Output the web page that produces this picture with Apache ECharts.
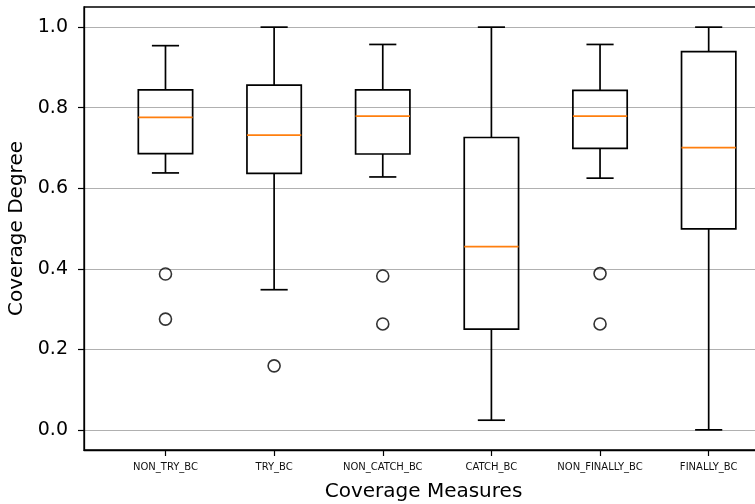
<!DOCTYPE html>
<html>
<head>
<meta charset="utf-8">
<script src="https://cdn.jsdelivr.net/npm/echarts@6/dist/echarts.min.js"></script>
<style>
html,body{margin:0;padding:0;background:#fff;}
#chart{width:755px;height:504px;}
</style>
</head>
<body>
<div id="chart"></div>
<script>
// Categories (box positions 1..6)
const categories = ['NON_TRY_BC', 'TRY_BC', 'NON_CATCH_BC', 'CATCH_BC', 'NON_FINALLY_BC', 'FINALLY_BC'];
// Box statistics per category: [lower whisker, Q1, median, Q3, upper whisker]
const lowerWhisker = [0.638, 0.348, 0.628, 0.024, 0.625, 0.000];
const q1Values     = [0.686, 0.637, 0.685, 0.250, 0.699, 0.499];
const medians      = [0.776, 0.732, 0.779, 0.455, 0.779, 0.701];
const q3Values     = [0.844, 0.856, 0.844, 0.726, 0.843, 0.939];
const upperWhisker = [0.954, 1.000, 0.957, 1.000, 0.957, 1.000];
// Outliers: [category position, value]
const outliers = [[1, 0.387], [1, 0.275], [2, 0.159], [3, 0.382], [3, 0.263], [5, 0.388], [5, 0.263]];
// Tick values
const yTicks = [0.0, 0.2, 0.4, 0.6, 0.8, 1.0];
const xTicks = [1, 2, 3, 4, 5, 6];

const boxData = categories.map((c, i) => [i + 1, lowerWhisker[i], q1Values[i], medians[i], q3Values[i], upperWhisker[i]]);

const chart = echarts.init(document.getElementById('chart'), null, {renderer: 'canvas'});
const font = 'DejaVu Sans';
const lineW = 1.7;

function renderBox(params, api) {
  const x = api.value(0);
  const pLo = api.coord([x, api.value(1)]);
  const pQ1 = api.coord([x, api.value(2)]);
  const pMed = api.coord([x, api.value(3)]);
  const pQ3 = api.coord([x, api.value(4)]);
  const pHi = api.coord([x, api.value(5)]);
  const boxHalf = api.size([0.5, 0])[0] / 2;
  const capHalf = api.size([0.25, 0])[0] / 2;
  const cx = pMed[0];
  const st = {stroke: '#000', lineWidth: lineW, fill: null};
  return {
    type: 'group',
    children: [
      {type: 'rect', shape: {x: cx - boxHalf, y: pQ3[1], width: boxHalf * 2, height: pQ1[1] - pQ3[1]}, style: {stroke: '#000', lineWidth: lineW, fill: 'none'}},
      {type: 'line', shape: {x1: cx, y1: pQ1[1], x2: cx, y2: pLo[1]}, style: st},
      {type: 'line', shape: {x1: cx, y1: pQ3[1], x2: cx, y2: pHi[1]}, style: st},
      {type: 'line', shape: {x1: cx - capHalf, y1: pLo[1], x2: cx + capHalf, y2: pLo[1]}, style: st},
      {type: 'line', shape: {x1: cx - capHalf, y1: pHi[1], x2: cx + capHalf, y2: pHi[1]}, style: st},
      {type: 'line', shape: {x1: cx - boxHalf, y1: pMed[1], x2: cx + boxHalf, y2: pMed[1]}, style: {stroke: '#ff7f0e', lineWidth: lineW}}
    ]
  };
}

const option = {
  animation: false,
  backgroundColor: '#fff',
  grid: {
    left: 84, right: -8, top: 7, bottom: 54,
    outerBoundsMode: 'none', containLabel: false,
    show: true, borderColor: '#000', borderWidth: 1.3, backgroundColor: 'transparent'
  },
  xAxis: {
    type: 'value', min: 0.25, max: 6.5,
    splitLine: {show: false},
    axisLine: {show: true, onZero: false, lineStyle: {color: '#000', width: 1.3}},
    axisTick: {show: true, length: 6, lineStyle: {color: '#000', width: 1.2}, customValues: xTicks},
    axisLabel: {customValues: xTicks, fontFamily: font, fontSize: 10, color: '#111', margin: 12,
      formatter: v => categories[Math.round(v) - 1] || ''},
    name: 'Coverage Measures', nameLocation: 'middle', nameGap: 32,
    nameTextStyle: {fontFamily: font, fontSize: 20, color: '#000'}
  },
  yAxis: {
    type: 'value', min: -0.05, max: 1.05,
    axisLine: {show: true, onZero: false, lineStyle: {color: '#000', width: 1.3}},
    axisTick: {show: true, length: 6, lineStyle: {color: '#000', width: 1.2}, customValues: yTicks},
    axisLabel: {customValues: yTicks, fontFamily: font, fontSize: 19, color: '#000', margin: 16,
      formatter: v => v.toFixed(1)},
    splitLine: {show: true, lineStyle: {color: '#b0b0b0', width: 1.2}},
    name: 'Coverage Degree', nameLocation: 'middle', nameGap: 56,
    nameTextStyle: {fontFamily: font, fontSize: 20, color: '#000'}
  },
  series: [
    {type: 'custom', renderItem: renderBox, data: boxData, encode: {x: 0, y: [1, 2, 3, 4, 5]}, clip: false},
    {type: 'scatter', data: outliers, symbol: 'circle', symbolSize: 12,
      itemStyle: {color: 'transparent', borderColor: '#000', borderWidth: 1.6}}
  ]
};
chart.setOption(option);
</script>
</body>
</html>
